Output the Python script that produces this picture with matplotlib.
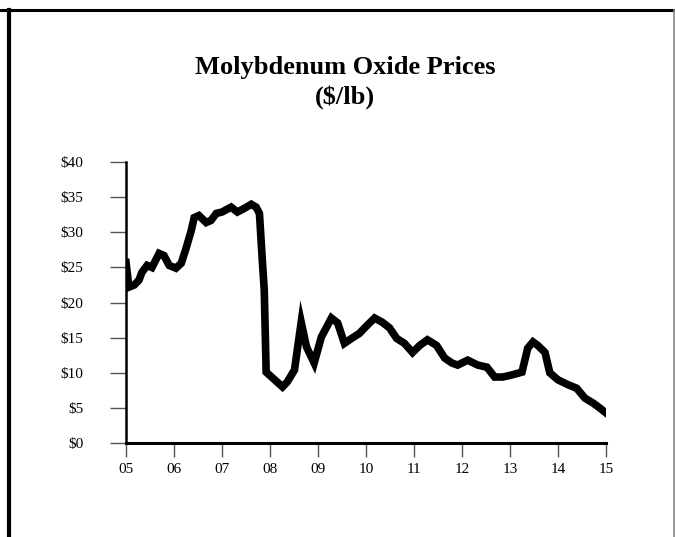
import matplotlib.pyplot as plt
from matplotlib.lines import Line2D

# price readings, decimal year vs $/lb
years = [2005.00, 2005.06, 2005.17, 2005.27, 2005.33, 2005.44, 2005.54, 2005.69,
         2005.79, 2005.90, 2006.04, 2006.15, 2006.25, 2006.36, 2006.42, 2006.52,
         2006.67, 2006.77, 2006.88, 2007.00, 2007.19, 2007.32, 2007.46, 2007.61,
         2007.71, 2007.78, 2007.84, 2007.88, 2007.92, 2008.26, 2008.36, 2008.51,
         2008.65, 2008.76, 2008.92, 2009.07, 2009.28, 2009.41, 2009.55, 2009.70,
         2009.86, 2010.03, 2010.18, 2010.34, 2010.49, 2010.64, 2010.80, 2010.97,
         2011.12, 2011.28, 2011.47, 2011.64, 2011.79, 2011.91, 2012.12, 2012.33,
         2012.52, 2012.68, 2012.85, 2013.04, 2013.25, 2013.37, 2013.48, 2013.58,
         2013.73, 2013.83, 2014.00, 2014.21, 2014.39, 2014.56, 2014.73, 2014.87,
         2014.98]
prices = [25.7, 22.2, 22.5, 23.2, 24.3, 25.3, 25.0, 27.0,
          26.7, 25.3, 24.9, 25.6, 27.7, 30.3, 32.1, 32.4,
          31.4, 31.7, 32.7, 32.9, 33.6, 32.9, 33.4, 34.0,
          33.6, 32.7, 26.0, 21.8, 10.1, 8.0, 8.7, 10.4,
          17.2, 13.7, 11.4, 15.1, 17.8, 17.1, 14.2, 14.9,
          15.6, 16.8, 17.8, 17.2, 16.4, 14.9, 14.2, 12.9,
          13.9, 14.7, 13.9, 12.1, 11.4, 11.1, 11.8, 11.1,
          10.8, 9.4, 9.4, 9.7, 10.1, 13.5, 14.4, 13.9,
          12.9, 10.0, 9.0, 8.3, 7.8, 6.4, 5.7, 5.0,
          4.4]

xticks = list(range(2005, 2016))
xlabels = ["05", "06", "07", "08", "09", "10", "11", "12", "13", "14", "15"]
yticks = [0, 5, 10, 15, 20, 25, 30, 35, 40]
ylabels = ["$%d" % v for v in yticks]

plt.rcParams["font.family"] = ["Liberation Serif", "DejaVu Serif"]

fig = plt.figure(figsize=(6.75, 5.37), dpi=100)
ax = fig.add_axes([0.1867, 0.175, 0.711, 0.523])

ax.plot(years, prices, color="black", lw=5.5, solid_joinstyle="miter")

ax.set_xlim(2005, 2015)
ax.set_ylim(0, 40)
ax.set_xticks(xticks)
ax.set_xticklabels(xlabels)
ax.set_yticks(yticks)
ax.set_yticklabels(ylabels)

for s in ["top", "right"]:
    ax.spines[s].set_visible(False)
ax.spines["left"].set_linewidth(1.8)
ax.spines["bottom"].set_linewidth(2.2)
ax.tick_params(axis="y", direction="out", length=11.5, width=1, color="#555555",
               pad=19, labelsize=11)
ax.tick_params(axis="x", direction="out", length=10, width=1, color="#555555",
               pad=4.5, labelsize=11)

fig.text(0.511, 0.875, "Molybdenum Oxide Prices", ha="center", va="center",
         fontsize=19, fontweight="bold")
fig.text(0.511, 0.819, "($/lb)", ha="center", va="center",
         fontsize=19, fontweight="bold")

# frame lines around the chart
fig.add_artist(Line2D([0, 1], [1 - 10/537, 1 - 10/537], color="black", lw=2.2,
                      transform=fig.transFigure))
fig.add_artist(Line2D([9/675, 9/675], [0, 1 - 10/537], color="black", lw=3,
                      transform=fig.transFigure))
fig.add_artist(Line2D([673.5/675, 673.5/675], [0, 1 - 10/537], color="#888888",
                      lw=1.2, transform=fig.transFigure))

fig.savefig("out.png", dpi=100)
